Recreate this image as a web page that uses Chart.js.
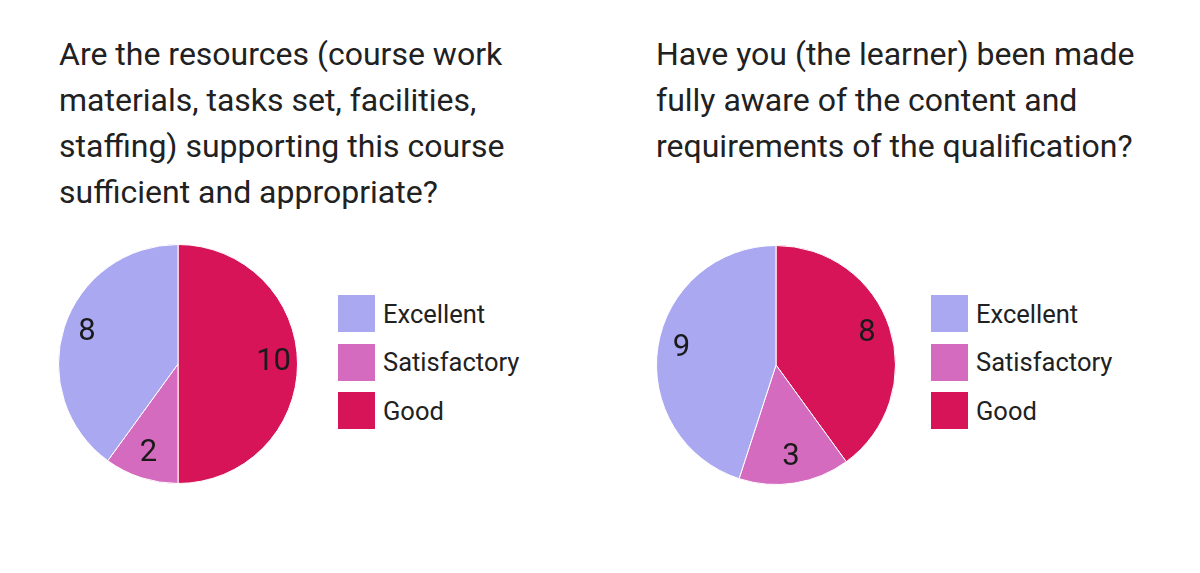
<!DOCTYPE html>
<html>
<head>
<meta charset="utf-8">
<script src="https://cdn.jsdelivr.net/npm/chart.js@4.4.1/dist/chart.umd.min.js"></script>
<style>
  html, body { margin:0; padding:0; background:#fff; width:1200px; height:573px; overflow:hidden;
    font-family: Roboto, "Noto Sans", sans-serif; color:#212121; }
  .title { position:absolute; top:31px; font-size:32px; line-height:46px; white-space:nowrap; }
  .pie { position:absolute; width:260px; height:260px; }
  .legend { position:absolute; top:295px; }
  .item { display:flex; align-items:center; height:37px; margin-bottom:11.5px; font-size:25.5px; }
  .sw { width:37px; height:37px; margin-right:8px; flex:none; }
</style>
</head>
<body>
<div class="title" id="t1" style="left:59px"></div>
<div class="title" id="t2" style="left:656px"></div>
<div class="pie" style="left:48px;top:234px"><canvas id="c1" width="260" height="260"></canvas></div>
<div class="pie" style="left:646px;top:235px"><canvas id="c2" width="260" height="260"></canvas></div>
<div class="legend" id="l1" style="left:338px"></div>
<div class="legend" id="l2" style="left:931px"></div>
<script>
// ---- data ----
const categories = ['Good', 'Satisfactory', 'Excellent'];
const sliceColors = ['#d81459', '#d56bbf', '#aba8f2'];
const resourcesValues = [10, 2, 8];
const awarenessValues = [8, 3, 9];
const resourcesTitle = [
  'Are the resources (course work',
  'materials, tasks set, facilities,',
  'staffing) supporting this course',
  'sufficient and appropriate?'
];
const awarenessTitle = [
  'Have you (the learner) been made',
  'fully aware of the content and',
  'requirements of the qualification?'
];

// ---- slice value labels ----
const sliceLabels = {
  id: 'sliceLabels',
  afterDatasetsDraw(chart) {
    const ctx = chart.ctx;
    const ds = chart.data.datasets[0];
    const meta = chart.getDatasetMeta(0);
    ctx.save();
    ctx.font = '31px Roboto, "Noto Sans", sans-serif';
    ctx.fillStyle = '#1a1a1a';
    ctx.textAlign = 'center';
    ctx.textBaseline = 'middle';
    meta.data.forEach((arc, i) => {
      const p = arc.getProps(['x', 'y', 'startAngle', 'endAngle', 'outerRadius'], true);
      const mid = (p.startAngle + p.endAngle) / 2;
      const r = p.outerRadius * 0.8;
      ctx.fillText(String(ds.data[i]), p.x + Math.cos(mid) * r, p.y + Math.sin(mid) * r - 2);
    });
    ctx.restore();
  }
};

function makePie(canvasId, values) {
  return new Chart(document.getElementById(canvasId), {
    type: 'pie',
    data: {
      labels: categories,
      datasets: [{
        data: values,
        backgroundColor: sliceColors,
        borderColor: '#ffffff',
        borderWidth: 1
      }]
    },
    options: {
      responsive: false,
      animation: false,
      events: [],
      radius: 119.5,
      layout: { padding: 0 },
      plugins: { legend: { display: false }, tooltip: { enabled: false } }
    },
    plugins: [sliceLabels]
  });
}

function fillTitle(id, lines) {
  const el = document.getElementById(id);
  lines.forEach(line => {
    const d = document.createElement('div');
    d.textContent = line;
    el.appendChild(d);
  });
}

function buildLegend(chart, id) {
  const items = Chart.overrides.pie.plugins.legend.labels.generateLabels(chart).slice().reverse();
  const el = document.getElementById(id);
  items.forEach(it => {
    const row = document.createElement('div');
    row.className = 'item';
    const sw = document.createElement('div');
    sw.className = 'sw';
    sw.style.background = it.fillStyle;
    const tx = document.createElement('span');
    tx.textContent = it.text;
    row.appendChild(sw);
    row.appendChild(tx);
    el.appendChild(row);
  });
}

fillTitle('t1', resourcesTitle);
fillTitle('t2', awarenessTitle);
const chart1 = makePie('c1', resourcesValues);
const chart2 = makePie('c2', awarenessValues);
buildLegend(chart1, 'l1');
buildLegend(chart2, 'l2');
</script>
</body>
</html>
